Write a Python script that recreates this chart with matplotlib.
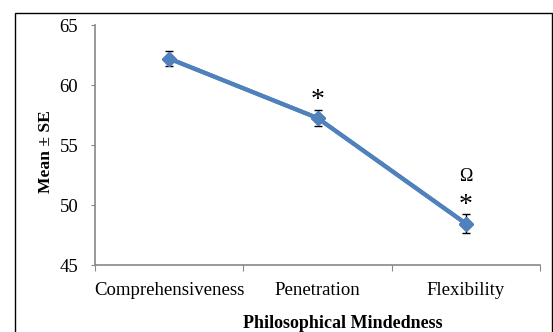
import matplotlib
matplotlib.use("Agg")
import matplotlib.pyplot as plt
from matplotlib.patches import Rectangle

categories = ["Comprehensiveness", "Penetration", "Flexibility"]
means = [62.2, 57.25, 48.45]
se = [0.65, 0.65, 0.8]
yticks = [45, 50, 55, 60, 65]

plt.rcParams['font.family'] = ['Liberation Serif', 'DejaVu Serif']

fig = plt.figure(figsize=(5.53, 3.32), dpi=100)
fig.patches.append(Rectangle((15/553, -0.1), 537/553, 1.1 - 13/332, transform=fig.transFigure,
                             fill=False, edgecolor='black', linewidth=1.0))
ax = fig.add_axes([95/553, 1-265/332, 445/553, 240/332])

x = list(range(len(categories)))
ax.errorbar(x, means, yerr=se, color='#4F81BD', linewidth=3, marker='D', markersize=7,
            ecolor='black', elinewidth=1, capsize=3, capthick=1, zorder=3)
ax.plot(x, means, color='#4F81BD', linewidth=3, marker='D', markersize=7, zorder=4)

ax.set_xlim(-0.5, 2.5)
ax.set_ylim(45, 65)
ax.set_yticks(yticks)
ax.set_yticklabels([str(v) for v in yticks], fontsize=13.5)
ax.set_xticks([-0.5, 0.5, 1.5, 2.5])
ax.set_xticklabels([])
ax.set_xticks(x, minor=True)
ax.set_xticklabels(categories, minor=True, fontsize=13.5)
ax.tick_params(axis='x', which='minor', length=0, pad=12)
ax.tick_params(axis='x', which='major', length=4, color='#888888')
ax.tick_params(axis='y', length=3, color='#888888', pad=9)
for s in ['top', 'right']:
    ax.spines[s].set_visible(False)
for s in ['left', 'bottom']:
    ax.spines[s].set_color('#888888')
    ax.spines[s].set_linewidth(1.2)

# significance marks
ax.text(1, 58.67, "*", ha='center', va='center', fontsize=20)
ax.text(2, 52.4, "Ω", ha='center', va='center', fontsize=13)
ax.text(2, 50.0, "*", ha='center', va='center', fontsize=20)

fig.text(46/553, 1-152/332, "Mean ± SE", rotation=90, ha='center', va='center',
         fontsize=12.6, fontweight='bold')
fig.text(343/553, 1-323/332, "Philosophical Mindedness", ha='center', va='center',
         fontsize=13, fontweight='bold')

fig.savefig("out.png", dpi=100)
